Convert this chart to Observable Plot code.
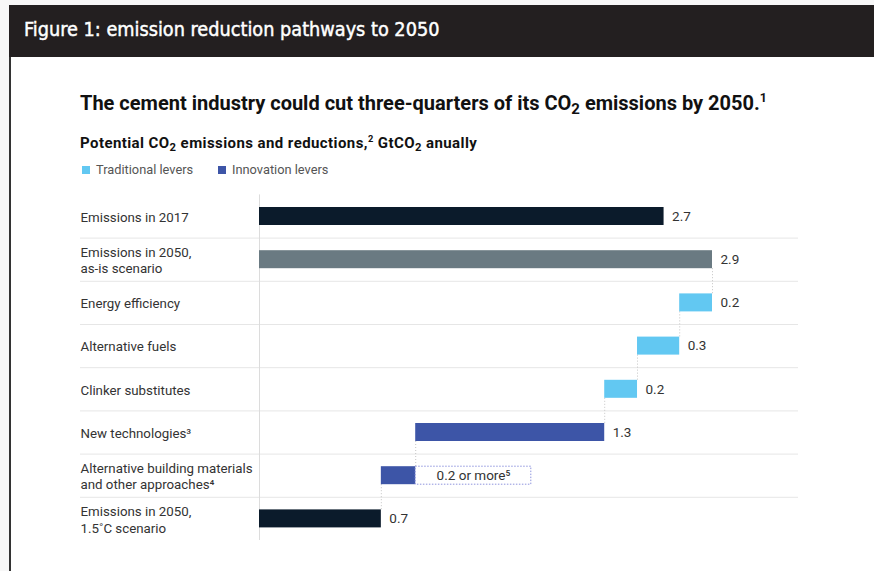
<!DOCTYPE html>
<html><head><meta charset="utf-8">
<script src="https://cdn.jsdelivr.net/npm/d3@7"></script>
<script src="https://cdn.jsdelivr.net/npm/@observablehq/plot@0.6"></script>
<style>
html,body{margin:0;padding:0;background:#fff;}
#page{position:relative;width:874px;height:571px;overflow:hidden;background:#f7f7f7;font-family:Roboto,"Liberation Sans",sans-serif;}
#header{position:absolute;left:9px;top:5px;width:865px;height:52px;background:#231f20;}
#header span{position:absolute;left:15px;top:50%;transform:translateY(-56%);color:#fff;font-family:"DejaVu Sans Condensed","DejaVu Sans",sans-serif;font-stretch:condensed;font-weight:400;font-size:19.7px;-webkit-text-stroke:0.45px #fff;white-space:nowrap;}
#border{position:absolute;left:9px;top:57px;width:2px;height:514px;background:#333;}
#panel{position:absolute;left:11px;top:57px;right:0;bottom:0;background:#fff;}
#title{position:absolute;left:80px;top:91px;font-size:20px;font-weight:700;color:#111;white-space:nowrap;line-height:24px;}
#subtitle{position:absolute;left:80px;top:134px;font-size:15px;letter-spacing:0.42px;font-weight:700;color:#111;white-space:nowrap;line-height:18px;}
sub{font-size:0.75em;vertical-align:-0.28em;line-height:0;}
sup{font-size:0.62em;vertical-align:0.65em;line-height:0;}
.item{position:absolute;top:162px;font-size:12.8px;color:#555;white-space:nowrap;line-height:16px;display:flex;align-items:center;}
.item .sw{width:8px;height:8px;margin-right:6px;display:inline-block;}
#chart{position:absolute;left:0;top:190px;}
</style></head>
<body><div id="page">
<div id="panel"></div>
<div id="header"><span>Figure 1: emission reduction pathways to 2050</span></div>
<div id="border"></div>
<div id="title">The cement industry could cut three-quarters of its CO<sub>2</sub> emissions by 2050.<sup>1</sup></div>
<div id="subtitle">Potential CO<sub>2</sub> emissions and reductions,<sup>2</sup> GtCO<sub>2</sub> anually</div>
<div id="chart"></div>
</div>
<script>
const categories = [
  "Emissions in 2017",
  "Emissions in 2050,\nas-is scenario",
  "Energy efficiency",
  "Alternative fuels",
  "Clinker substitutes",
  "New technologies³",
  "Alternative building materials\nand other approaches⁴",
  "Emissions in 2050,\n1.5˚C scenario"
];
const rowKinds = ["total2017", "asIs", "traditional", "traditional", "traditional", "innovation", "innovation", "target"];
const barValues = [2.59, 2.9, 0.21, 0.27, 0.21, 1.21, 0.22, 0.78];
const valueLabels = ["2.7", "2.9", "0.2", "0.3", "0.2", "1.3", "0.2 or more⁵", "0.7"];
const legendLabels = ["Traditional levers", "Innovation levers"];
const legendKinds = ["traditional", "innovation"];
const legendLefts = [82, 218];
const openEndedRow = 6;
const openEndedSpan = 0.74;

const colors = {total2017: "#0b1b2b", asIs: "#6a7a82", traditional: "#62c8f2", innovation: "#3d55a7", target: "#0b1b2b"};

// legend
const page = document.getElementById("page");
legendLabels.forEach((l, i) => {
  const it = document.createElement("div"); it.className = "item"; it.style.left = legendLefts[i] + "px";
  const sw = document.createElement("span"); sw.className = "sw"; sw.style.background = colors[legendKinds[i]];
  it.appendChild(sw); it.appendChild(document.createTextNode(l));
  page.appendChild(it);
});

// waterfall layout
let level = 0;
const rows = categories.map((c, i) => {
  const k = rowKinds[i], v = barValues[i];
  let x1, x2;
  if (k === "traditional" || k === "innovation") { x2 = level; x1 = level - v; level = x1; }
  else { x1 = 0; x2 = v; level = v; }
  return {cat: c, kind: k, x1, x2, label: valueLabels[i], i};
});
const connectors = rows.slice(2);
const boxRow = rows[openEndedRow];
const boxes = [{cat: boxRow.cat, x1: boxRow.x2, x2: boxRow.x2 + openEndedSpan, label: boxRow.label}];
const plainLabels = rows.filter(r => r.i !== openEndedRow);

const band = 43.2, barH = 18, inset = (band - barH) / 2;

const chart = Plot.plot({
  width: 874, height: 360,
  marginLeft: 80, marginRight: 76, marginTop: 4.4, marginBottom: 10,
  x: {domain: [0, 2.9], range: [259, 712], axis: null},
  y: {domain: categories, padding: 0, round: false, axis: null},
  style: {fontFamily: "Roboto, 'Liberation Sans', sans-serif", fontSize: "13px", background: "transparent", overflow: "visible"},
  marks: [
    Plot.ruleY(categories.slice(0, -1), {y: d => d, dy: band / 2, stroke: "#e6e6e6", strokeWidth: 1}),
    Plot.ruleX([0], {stroke: "#dcdcdc", strokeWidth: 1}),
    Plot.ruleX(connectors, {x: "x2", y1: "cat", y2: "cat", insetTop: -inset, insetBottom: inset + barH, stroke: "#c4c4c4", strokeDasharray: "1,2"}),
    Plot.barX(rows, {x1: "x1", x2: "x2", y: "cat", fill: d => colors[d.kind], insetTop: inset, insetBottom: inset}),
    Plot.barX(boxes, {x1: "x1", x2: "x2", y: "cat", fill: "none", stroke: "#8e94dd", strokeDasharray: "1.5,1.5", insetTop: inset, insetBottom: inset}),
    Plot.text(plainLabels, {x: "x2", y: "cat", text: "label", dx: 8, textAnchor: "start", fill: "#333", fontSize: 13.5}),
    Plot.text(boxes, {x: d => (d.x1 + d.x2) / 2, y: "cat", text: "label", textAnchor: "middle", fill: "#333", fontSize: 13.5}),
    Plot.text(categories, {y: d => d, text: d => d, frameAnchor: "left", textAnchor: "start", lineHeight: 1.25, fill: "#333", fontSize: 13.3})
  ]
});
document.getElementById("chart").appendChild(chart);
</script>
</body></html>
